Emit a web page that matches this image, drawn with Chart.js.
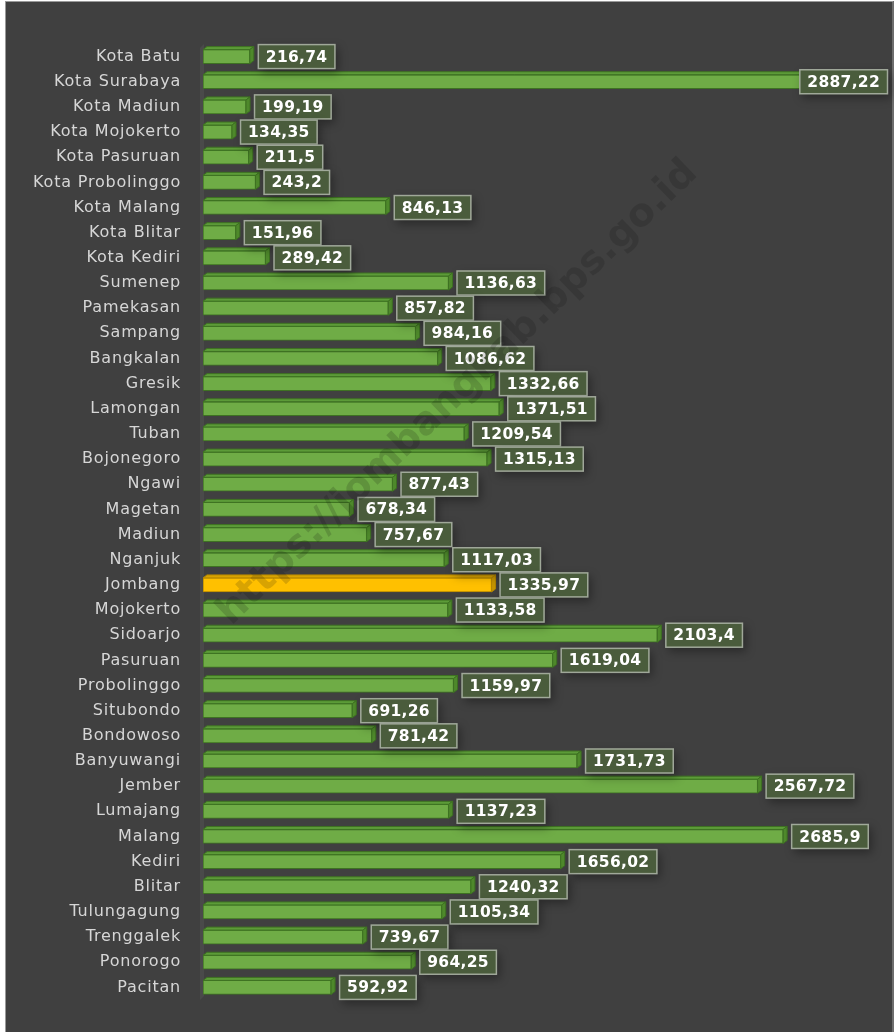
<!DOCTYPE html>
<html>
<head>
<meta charset="utf-8">
<script src="https://cdn.jsdelivr.net/npm/chart.js@4.4.1/dist/chart.umd.min.js"></script>
<style>
  html, body { margin: 0; padding: 0; background: #ffffff; }
  canvas { display: block; }
</style>
</head>
<body>
<canvas id="areaChart" width="894" height="1032"></canvas>
<script>
// kabupaten / kota, top to bottom as in the chart
const regions = [
    'Kota Batu', 'Kota Surabaya', 'Kota Madiun', 'Kota Mojokerto', 'Kota Pasuruan',
    'Kota Probolinggo', 'Kota Malang', 'Kota Blitar', 'Kota Kediri', 'Sumenep',
    'Pamekasan', 'Sampang', 'Bangkalan', 'Gresik', 'Lamongan', 'Tuban', 'Bojonegoro',
    'Ngawi', 'Magetan', 'Madiun', 'Nganjuk', 'Jombang', 'Mojokerto', 'Sidoarjo',
    'Pasuruan', 'Probolinggo', 'Situbondo', 'Bondowoso', 'Banyuwangi', 'Jember',
    'Lumajang', 'Malang', 'Kediri', 'Blitar', 'Tulungagung', 'Trenggalek', 'Ponorogo',
    'Pacitan'
];

const areaValues = [
    216.74, 2887.22, 199.19, 134.35, 211.5,
    243.2, 846.13, 151.96, 289.42, 1136.63,
    857.82, 984.16, 1086.62, 1332.66, 1371.51, 1209.54, 1315.13,
    877.43, 678.34, 757.67, 1117.03, 1335.97, 1133.58, 2103.4,
    1619.04, 1159.97, 691.26, 781.42, 1731.73, 2567.72,
    1137.23, 2685.9, 1656.02, 1240.32, 1105.34, 739.67, 964.25,
    592.92
];

const highlight = 'Jombang';
const xMax = 3000;

// colours
const GREEN = { front: '#6fac46', edge: '#3e7222', top: '#5c9b38', side: '#4f8a2c' };
const GOLD = { front: '#ffc000', edge: '#b38600', top: '#d9a300', side: '#c69500' };
const pal = i => regions[i] === highlight ? GOLD : GREEN;

const fmt = v => String(v).replace('.', ',');

// background + frame
const framePlugin = {
    id: 'frame',
    beforeDraw(chart) {
        const c = chart.ctx;
        c.save();
        c.fillStyle = '#ffffff';
        c.fillRect(0, 0, chart.width, chart.height);
        c.fillStyle = '#404040';
        c.fillRect(5, 1, chart.width - 5, chart.height - 1);
        c.strokeStyle = '#9a9a9a';
        c.lineWidth = 1;
        c.strokeRect(5.5, 1.5, chart.width - 6.5, chart.height - 1);
        c.restore();
        // wider spacing for the category names
        c.letterSpacing = '0.8px';
    },
    beforeDatasetsDraw(chart) {
        // little 3D wall at the axis
        const c = chart.ctx, a = chart.chartArea;
        c.save();
        c.fillStyle = '#4a4a4a';
        c.beginPath();
        c.moveTo(a.left - 3, a.top + 4);
        c.lineTo(a.left + 1, a.top);
        c.lineTo(a.left + 1, a.bottom - 4);
        c.lineTo(a.left - 3, a.bottom);
        c.closePath();
        c.fill();
        c.restore();
    }
};

// top and side faces of the bars
const depthPlugin = {
    id: 'depth',
    afterDatasetsDraw(chart) {
        const c = chart.ctx;
        const meta = chart.getDatasetMeta(0);
        const dx = 4, dy = 3;
        c.save();
        meta.data.forEach((bar, i) => {
            const p = pal(i);
            const x0 = bar.base, x1 = bar.x;
            const top = bar.y - bar.height / 2, bot = bar.y + bar.height / 2;
            c.lineWidth = 1;
            c.strokeStyle = p.edge;
            c.fillStyle = p.top;
            c.beginPath();
            c.moveTo(x0, top);
            c.lineTo(x0 + dx, top - dy);
            c.lineTo(x1 + dx, top - dy);
            c.lineTo(x1, top);
            c.closePath();
            c.fill();
            c.stroke();
            c.fillStyle = p.side;
            c.beginPath();
            c.moveTo(x1, top);
            c.lineTo(x1 + dx, top - dy);
            c.lineTo(x1 + dx, bot - dy);
            c.lineTo(x1, bot);
            c.closePath();
            c.fill();
            c.stroke();
        });
        c.restore();
    }
};

// boxed value labels
const valueBoxPlugin = {
    id: 'valueBox',
    afterDatasetsDraw(chart) {
        const c = chart.ctx;
        const meta = chart.getDatasetMeta(0);
        c.save();
        c.letterSpacing = '0.3px';
        c.font = 'bold 15.5px "DejaVu Sans"';
        c.textBaseline = 'middle';
        c.textAlign = 'left';
        meta.data.forEach((bar, i) => {
            const txt = fmt(areaValues[i]);
            const w = c.measureText(txt).width + 16;
            const h = 25;
            let x = bar.x + 8;
            if (x + w > chart.width - 6) x = chart.width - 6 - w;
            const y = bar.y - h / 2;
            c.save();
            c.shadowColor = 'rgba(0,0,0,0.35)';
            c.shadowBlur = 10;
            c.shadowOffsetX = 3;
            c.shadowOffsetY = 4;
            c.fillStyle = '#4a5c3c';
            c.fillRect(x, y, w, h);
            c.restore();
            c.strokeStyle = 'rgba(190,195,185,0.75)';
            c.lineWidth = 1.5;
            c.strokeRect(x + 0.5, y + 0.5, w - 1, h - 1);
            c.fillStyle = '#ffffff';
            c.fillText(txt, x + 8, bar.y + 1);
        });
        c.restore();
    }
};

// diagonal site watermark
const watermarkPlugin = {
    id: 'watermark',
    afterDraw(chart) {
        const c = chart.ctx;
        const txt = 'https://jombangkab.bps.go.id';
        c.save();
        c.letterSpacing = '0px';
        c.font = 'bold 40px "DejaVu Sans"';
        const size = 40 * 650 / c.measureText(txt).width;
        c.font = 'bold ' + size + 'px "DejaVu Sans"';
        c.translate(458, 393);
        c.rotate(-44 * Math.PI / 180);
        c.textAlign = 'center';
        c.textBaseline = 'middle';
        c.fillStyle = 'rgba(15,15,15,0.16)';
        c.fillText(txt, 0, 0);
        c.restore();
    }
};

new Chart(document.getElementById('areaChart'), {
    type: 'bar',
    data: {
        labels: regions,
        datasets: [{
            data: areaValues,
            backgroundColor: regions.map((r, i) => pal(i).front),
            borderColor: regions.map((r, i) => pal(i).edge),
            borderWidth: 1,
            borderSkipped: false,
            barThickness: 14
        }]
    },
    options: {
        indexAxis: 'y',
        responsive: false,
        animation: false,
        devicePixelRatio: 1,
        layout: { padding: { top: 44, bottom: 32, left: 0, right: 43 } },
        plugins: {
            legend: { display: false },
            tooltip: { enabled: false }
        },
        scales: {
            x: { display: false, min: 0, max: xMax },
            y: {
                grid: { display: false, drawTicks: false },
                border: { display: false },
                ticks: {
                    autoSkip: false,
                    padding: 22,
                    color: '#d6d6d6',
                    font: { family: '"DejaVu Sans"', size: 16 }
                },
                afterFit: s => { s.width = 203; }
            }
        }
    },
    plugins: [framePlugin, depthPlugin, valueBoxPlugin, watermarkPlugin]
});
</script>
</body>
</html>
